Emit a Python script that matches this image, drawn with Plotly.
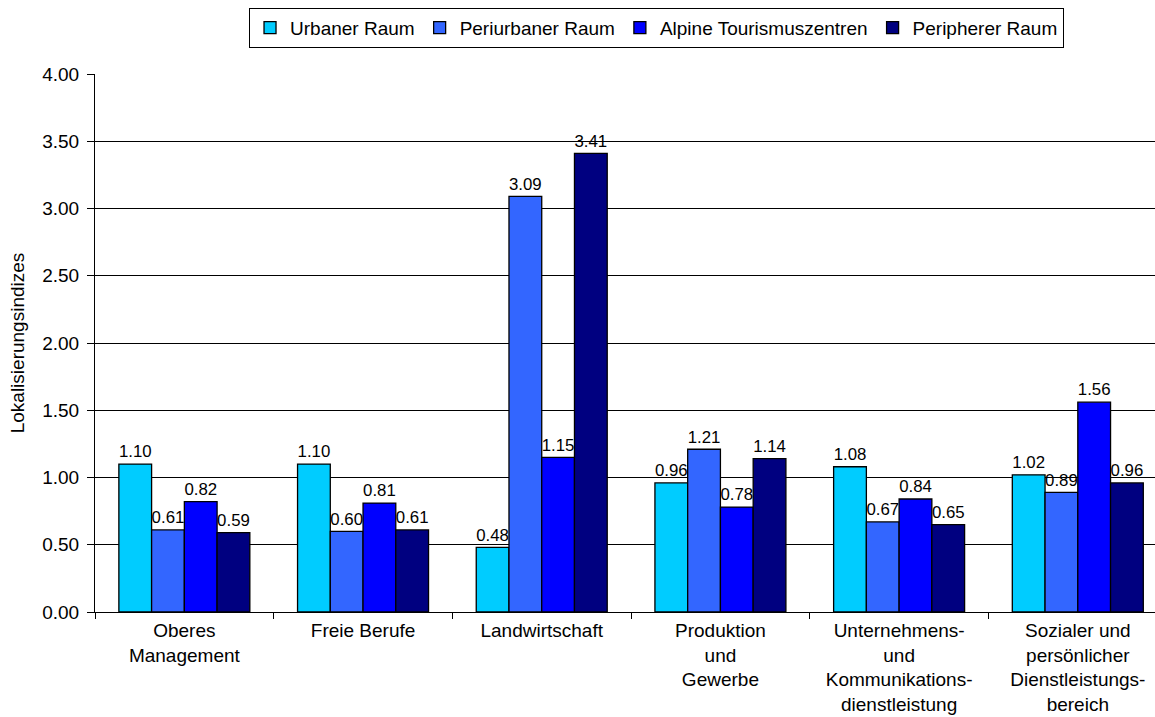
import plotly.graph_objects as go

# Categories (occupational groups) and location quotients per region type
categories = [
    "Oberes<br>Management",
    "Freie Berufe",
    "Landwirtschaft",
    "Produktion<br>und<br>Gewerbe",
    "Unternehmens-<br>und<br>Kommunikations-<br>dienstleistung",
    "Sozialer und<br>persönlicher<br>Dienstleistungs-<br>bereich",
]

urbaner = [1.10, 1.10, 0.48, 0.96, 1.08, 1.02]
periurbaner = [0.61, 0.60, 3.09, 1.21, 0.67, 0.89]
alpine = [0.82, 0.81, 1.15, 0.78, 0.84, 1.56]
peripherer = [0.59, 0.61, 3.41, 1.14, 0.65, 0.96]

series = [
    ("Urbaner Raum", urbaner, "#00CCFF"),
    ("Periurbaner Raum", periurbaner, "#3366FF"),
    ("Alpine Tourismuszentren", alpine, "#0000FF"),
    ("Peripherer Raum", peripherer, "#000080"),
]

font_family = "Liberation Sans, Arial, sans-serif"
fs = 19

fig = go.Figure()
for name, vals, color in series:
    fig.add_trace(go.Bar(
        name=name,
        x=categories,
        y=vals,
        marker=dict(color=color, line=dict(color="black", width=1.3)),
        text=[f"{v:.2f}" for v in vals],
        textposition="outside",
        textfont=dict(size=18, color="black", family=font_family),
        cliponaxis=False,
    ))

fig.update_layout(
    width=1155,
    height=717,
    margin=dict(l=95, r=0, t=74, b=105, autoexpand=False),
    paper_bgcolor="white",
    plot_bgcolor="white",
    font=dict(family=font_family, size=fs, color="black"),
    barmode="group",
    bargap=0.267,
    bargroupgap=0,
    legend=dict(
        orientation="h",
        x=0.1453,
        xanchor="left",
        y=1.123,
        yanchor="top",
        bordercolor="black",
        borderwidth=1,
        font=dict(size=fs),
        itemwidth=30,
        tracegroupgap=0,
    ),
    showlegend=True,
)

fig.update_xaxes(
    type="category",
    range=[-0.5, 5.432],
    automargin=False,
    showline=True,
    linecolor="black",
    linewidth=1,
    ticks="outside",
    tickson="boundaries",
    ticklen=6,
    tickcolor="black",
    ticklabelstandoff=1,
    showgrid=False,
    tickfont=dict(size=fs),
)

fig.update_yaxes(
    range=[0, 4],
    dtick=0.5,
    tickformat=".2f",
    automargin=False,
    showline=True,
    linecolor="black",
    linewidth=1,
    ticks="outside",
    ticklen=7,
    tickcolor="black",
    ticklabelstandoff=4,
    showgrid=True,
    gridcolor="black",
    gridwidth=1,
    zeroline=False,
    tickfont=dict(size=fs),
    title=dict(text="Lokalisierungsindizes", font=dict(size=fs), standoff=12),
)

fig.write_html("out.html")
